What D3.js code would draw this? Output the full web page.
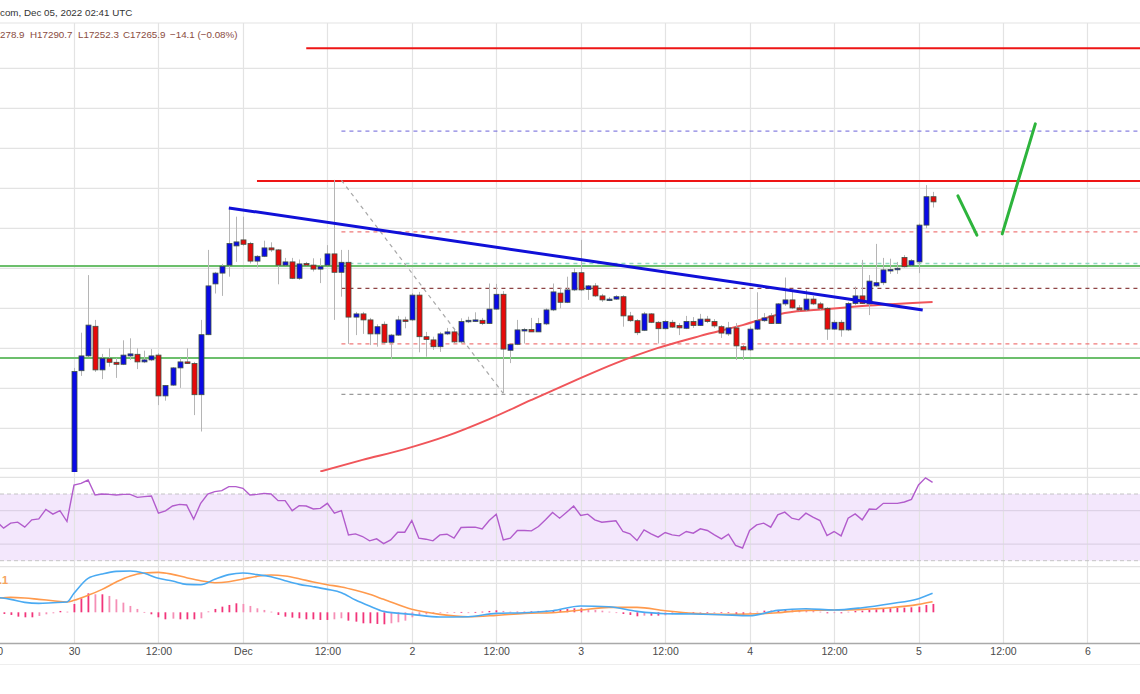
<!DOCTYPE html>
<html><head><meta charset="utf-8">
<script src="https://cdn.jsdelivr.net/npm/d3@7"></script>
<style>body{margin:0;background:#fff;overflow:hidden}svg{display:block;font-family:"Liberation Sans",Arial,sans-serif}</style>
</head><body><svg id="c" width="1140" height="694"></svg>
<script>
// ---------------- DATA (hourly candles, BTC/USD, from 30 Nov 2022 00:00 UTC) ----------------
const startUTC = Date.UTC(2022, 10, 30, 0, 0);
const open = [16571,16844,16881,16955,16846,16874,16865,16860,16881,16885,
16866,16871,16883,16781,16808,16851,16866,16862,16784,16934,
17061,17088,17108,17156,17171,17162,17118,17130,17151,17146,
17108,17116,17075,17112,17108,17098,17108,17136,17090,17115,
16978,16986,16971,16936,16960,16915,16933,16971,16971,17033,
16929,16921,16904,16936,16941,16916,16967,16968,16970,16962,
16998,17035,16895,16910,16945,16947,16941,16961,16996,17038,
17015,17046,17089,17047,17056,17031,17020,17023,17029,16981,
16969,16945,16986,16965,16949,16965,16957,16950,16967,16957,
16973,16967,16954,16936,16951,16904,16896,16948,16969,16981,
16962,17011,17021,17001,16996,17023,17011,17000,16948,16965,
16946,17012,17031,17011,17056,17064,17096,17097,17127,17108,
17116,17208,17279];
const high = [16851,16939,17083,16971,16886,16900,16876,16920,16925,16900,
16894,16898,16888,16808,16853,16876,16900,16866,16971,17146,
17091,17111,17251,17229,17229,17166,17133,17169,17165,17148,
17126,17126,17122,17116,17125,17125,17158,17321,17146,17146,
16991,16991,16976,16960,16967,16936,16981,16979,17038,17041,
16941,16929,16941,16951,16951,16975,16979,16990,16976,17062,
17061,17043,16911,16971,16951,16976,16976,17000,17062,17050,
17079,17100,17171,17058,17063,17036,17028,17033,17033,16991,
16973,16991,16988,16968,16971,16971,16963,16981,16978,16986,
16981,16973,16958,16966,16963,16908,16954,17040,16988,16988,
17013,17077,17046,17008,17046,17031,17016,17003,16971,16971,
17016,17054,17121,17083,17161,17126,17124,17116,17133,17123,
17212,17308,17291];
const low = [16550,16831,16878,16841,16823,16854,16826,16858,16871,16848,
16863,16868,16758,16769,16806,16801,16861,16733,16692,16933,
17037,17031,17079,17116,17156,17112,17102,17128,17141,17060,
17106,17073,17071,17106,17092,17063,17106,16971,17029,16911,
16933,16936,16908,16904,16913,16873,16931,16950,16968,16890,
16879,16896,16891,16933,16913,16912,16963,16966,16958,16961,
16996,16788,16863,16908,16912,16941,16941,16958,16993,17000,
17013,17043,17043,17021,17028,17016,17018,17021,16954,16966,
16933,16943,16963,16912,16947,16951,16933,16948,16951,16956,
16963,16951,16926,16931,16871,16871,16893,16946,16966,16961,
16961,17006,16998,16993,16993,17008,16996,16921,16946,16929,
16943,17008,17011,16983,17053,17058,17086,17086,17102,17106,
17088,17200,17252];
const close = [16842,16881,16958,16846,16875,16865,16860,16883,16886,16866,
16871,16881,16781,16807,16851,16866,16862,16784,16934,17056,
17088,17105,17162,17166,17160,17118,17130,17151,17146,17108,
17116,17075,17111,17108,17098,17104,17136,17090,17115,16978,
16986,16971,16936,16954,16915,16933,16971,16968,17033,16929,
16922,16904,16936,16941,16916,16967,16970,16971,16962,16998,
17035,16898,16910,16946,16947,16941,16962,16996,17041,17015,
17046,17089,17046,17056,17031,17021,17023,17029,16981,16969,
16939,16986,16965,16949,16967,16953,16951,16967,16957,16973,
16967,16956,16938,16951,16906,16896,16948,16969,16976,16962,
17011,17021,17001,16996,17023,17011,17000,16948,16965,16946,
17012,17031,17012,17068,17064,17096,17097,17100,17104,17119,
17208,17279,17266];

// moving average (red curve), read at these hours
const maHours  = [35,41,47,53,59,65,71,77,83,89,95,101,107,113,122];
const maValues = [16592,16621,16648,16681,16723,16771,16818,16863,16901,16931,16958,16988,16998,17007,17016];

// horizontal levels (price) and the hour where each starts
const levelPrice = [17650,17443,17318,17191,17112,17106,17050,16911,16876,16785];
const levelStart = [33,38,26,38,38,-12,38,38,-12,38];

// trend line, fib diagonal, projection strokes: [hour, price]
const trendLine = [[22,17251],[120.6,16996]];
const fibDiagonal = [[38,17320],[61,16787]];
const projection1 = [[125.6,17281],[128.3,17183]];
const projection2 = [[131.9,17186],[136.6,17461]];

// RSI, first value at hour -11
const rsiStart = -11;
const rsi = [53.5,49.5,52.5,53.1,50.1,54.5,55.1,60.8,57.9,60.0,53.5,
75.4,76.4,78.4,69.4,70.0,69.8,69.4,69.8,69.8,68.0,
68.4,68.8,58.5,59.9,62.8,63.8,63.4,54.9,64.4,70.0,
71.4,72.0,74.4,74.4,73.4,69.4,69.8,70.4,70.0,66.0,
66.0,60.0,63.0,62.8,61.0,61.4,64.4,58.5,60.0,45.5,
46.1,44.5,41.9,43.1,40.2,42.5,47.1,47.1,54.1,43.5,
42.9,41.9,45.5,45.9,43.5,49.9,50.1,50.1,49.1,54.1,
57.9,42.5,43.5,48.1,48.1,47.9,50.5,54.5,58.9,55.5,
59.1,62.8,57.1,57.9,54.5,53.1,53.5,53.9,47.5,46.1,
42.1,48.5,46.1,44.1,46.9,45.5,44.9,47.5,46.5,49.1,
48.1,45.5,43.1,45.9,39.2,37.6,48.1,51.5,52.5,50.1,
57.5,59.1,55.5,54.5,58.5,56.1,54.1,45.1,47.5,44.9,
55.5,58.1,54.5,61.0,60.8,64.4,64.4,64.4,65.2,66.8,
75.4,79.7,77.0];

// MACD lines, read at these hours
const macdHours = [-11,-9,-7,-5,-3,-1,0,2,4,6,8,10,12,14,16,18,20,22,24,26,28,30,32,34,36,38,40,42,44,48,52,56,60,64,68,72,76,80,84,88,92,96,100,104,108,112,116,120,122];
const macdLine = [29.9,25.9,19.9,17.9,19.2,20.6,37.9,67.9,76.6,81.9,82.6,77.9,67.9,62.6,55.9,55.2,65.9,75.3,78.6,75.3,71.2,63.2,55.9,51.2,45.9,39.2,24.6,12.6,1.9,-4.1,-9.5,-8.8,-2.1,-0.8,3.2,12.6,11.2,1.9,-2.8,-3.5,-4.8,-6.8,3.9,7.2,4.6,9.2,17.2,27.2,37.9];
const signalLine = [27.9,29.9,28.6,25.9,23.2,20.6,23.9,33.9,45.9,60.6,72.6,78.6,79.9,75.9,69.2,63.2,59.2,61.2,66.6,71.9,74.6,72.6,67.2,60.6,55.2,50.6,43.9,35.9,25.9,5.9,-4.1,-8.8,-6.1,-2.1,-0.8,4.6,9.9,9.9,3.2,-2.1,-4.1,-3.5,-0.8,3.9,4.6,5.9,9.2,15.9,21.2];

// MACD histogram, first value at hour -10
const histStart = -10;
const hist = [-3.3,-5.3,-8.7,-10,-10,-7.3,-4,-2,2.7,1.3,
16.7,28,38,36,36,32.7,26,19.3,12.7,6.7,
0.7,-4,-10,-14,-12.7,-14,-14,-14,-12,2,
6.7,11.3,14.7,18,16.7,12.7,8,4.7,1.3,-5.3,
-8.7,-10.7,-12,-14,-14,-15.3,-15.3,-14,-12,-16.7,
-18.7,-22,-22,-23.3,-24,-22,-20,-16.7,-10,-6.7,
-4,-2.7,-1.3,-0.7,0.5,0.7,0,0.7,1.3,2.7,
4,2.7,1.3,1.3,1.3,2,2.7,3.3,4,5.3,
6.7,8,8,6.7,4.7,3.3,1.3,-0.7,-3.3,-5.3,
-8,-6.7,-6.7,-6.7,-6,-4,-2.7,-1.3,-1.3,-0.7,
-1.3,-0.7,-0.7,-1.3,-3.3,-5.3,-3.3,1.3,3.3,3.3,
4.7,6,5.3,4,3.3,2.7,1.3,-2,-0.7,-2,
1.3,2.7,3.3,4.7,6,6.7,8,8.7,9.3,10,
11.3,14.7,16.7];

const headerTitle = "com, Dec 05, 2022 02:41 UTC";
const headerOHLC = ["278.9","H17290.7","L17252.3","C17265.9","\u221214.1 (\u22120.08%)"];
const macdLabel = ".1";

// ---------------- SCALES ----------------
const HOUR = 3600e3;
const hd = h => new Date(startUTC + h * HOUR);
const x = d3.scaleUtc().domain([hd(-12), hd(144)]).range([74 - 84.45, 74 + 12 * 84.45]);
const X = h => x(hd(h));
const yP = d3.scaleLinear().domain([16600, 17700]).range([468.3, 28.3]);
const yR = d3.scaleLinear().domain([30, 70]).range([560.7, 494]);
const yM = d3.scaleLinear().domain([-50, 50]).range([637.3, 587.3]);

const svg = d3.select("#c");
svg.append("rect").attr("width",1140).attr("height",694).attr("fill","#fff");

// RSI band
svg.append("rect").attr("x",0).attr("width",1140).attr("y",yR(70)).attr("height",yR(30)-yR(70)).attr("fill","#f3e7fc");

// grid
const ticks = x.ticks(d3.utcHour.every(12));
svg.append("g").selectAll("line").data(ticks).join("line")
  .attr("x1",d=>Math.round(x(d))+0.5).attr("x2",d=>Math.round(x(d))+0.5)
  .attr("y1",23).attr("y2",643).attr("stroke","#e3e3e3").attr("stroke-width",1.2);
const pGrid = d3.range(16600, 17650, 100);
svg.append("g").selectAll("line").data(pGrid).join("line")
  .attr("x1",0).attr("x2",1140).attr("y1",d=>yP(d)).attr("y2",d=>yP(d))
  .attr("stroke","#e3e3e3").attr("stroke-width",1.2);
[23, 477.3, 566.7, 583.3].forEach(v=>{
  svg.append("line").attr("x1",0).attr("x2",1140).attr("y1",v).attr("y2",v).attr("stroke","#e3e3e3").attr("stroke-width",1.2);
});
[60,40].forEach(v=>{
  svg.append("line").attr("x1",0).attr("x2",1140).attr("y1",yR(v)).attr("y2",yR(v)).attr("stroke","#ddd2e6").attr("stroke-width",1.2);
});
[70,30].forEach(v=>{
  svg.append("line").attr("x1",0).attr("x2",1140).attr("y1",yR(v)).attr("y2",yR(v)).attr("stroke","#c4c4c4").attr("stroke-dasharray","4,3");
});

// ---------------- MAIN PANE ----------------
svg.append("clipPath").attr("id","mainClip").append("rect").attr("x",0).attr("y",23).attr("width",1140).attr("height",449);
const main = svg.append("g").attr("clip-path","url(#mainClip)");

const LEVEL_STYLE = [
  {c:"#ee1515", w:2, d:null},
  {c:"#6a62d8", w:1, d:"4,4"},
  {c:"#ee1515", w:2, d:null},
  {c:"#f07a7a", w:1.3, d:"4,4"},
  {c:"#8fd8bf", w:1.3, d:"4,4"},
  {c:"#6cbf6c", w:2, d:null},
  {c:"#8e4545", w:1.2, d:"4,4"},
  {c:"#f07a7a", w:1.3, d:"4,4"},
  {c:"#6cbf6c", w:2, d:null},
  {c:"#9a9a9a", w:1.2, d:"4,4"}
];
levelPrice.forEach((p,i)=>{
  const s = LEVEL_STYLE[i];
  const ln = main.append("line").attr("x1",X(levelStart[i])).attr("x2",1140)
    .attr("y1",yP(p)).attr("y2",yP(p)).attr("stroke",s.c).attr("stroke-width",s.w);
  if (s.d) ln.attr("stroke-dasharray",s.d);
});

const lineGen = d3.line().x(d=>X(d[0])).y(d=>yP(d[1]));
main.append("path").attr("d",lineGen(fibDiagonal)).attr("stroke","#a8a8a8").attr("stroke-width",1.2)
  .attr("stroke-dasharray","4,4").attr("fill","none");

// moving average
const maLine = d3.line().x((d,i)=>X(maHours[i])).y(d=>yP(d)).curve(d3.curveMonotoneX);
main.append("path").attr("d",maLine(maValues)).attr("stroke","#f0555a").attr("stroke-width",2).attr("fill","none");

// candles
const idx = d3.range(open.length);
const cg = main.append("g");
cg.selectAll("line").data(idx).join("line")
  .attr("x1",i=>Math.round(X(i))+0.5).attr("x2",i=>Math.round(X(i))+0.5)
  .attr("y1",i=>yP(high[i])).attr("y2",i=>yP(low[i]))
  .attr("stroke","#b5b5b5").attr("stroke-width",1);
cg.selectAll("rect").data(idx).join("rect")
  .attr("x",i=>Math.round(X(i))-2)
  .attr("width",5)
  .attr("y",i=>yP(Math.max(open[i],close[i])))
  .attr("height",i=>Math.max(1.5, Math.abs(yP(open[i])-yP(close[i]))))
  .attr("fill",i=> close[i] >= open[i] ? "#0a0ae6" : "#e60a0a")
  .attr("stroke","#3e5044").attr("stroke-width",0.8);

// trend line & projection
main.append("path").attr("d",lineGen(trendLine)).attr("stroke","#1010d8").attr("stroke-width",3).attr("fill","none");
[projection1, projection2].forEach(p=>{
  main.append("path").attr("d",lineGen(p)).attr("stroke","#2db43c").attr("stroke-width",3).attr("fill","none").attr("stroke-linecap","round");
});

// ---------------- RSI ----------------
const rsiGen = d3.line().x((d,i)=>X(rsiStart+i)).y(d=>yR(d));
svg.append("path").attr("d",rsiGen(rsi)).attr("stroke","#b25ccc").attr("stroke-width",1.4).attr("fill","none");

// ---------------- MACD ----------------
svg.append("g").selectAll("rect").data(hist).join("rect")
  .attr("x",(d,i)=>Math.round(X(histStart+i))-0.5)
  .attr("width",1.8)
  .attr("y",d=>Math.min(yM(d),yM(0)))
  .attr("height",d=>Math.max(0.8,Math.abs(yM(d)-yM(0))))
  .attr("fill",(d,i)=>{ const prev = i>0 ? hist[i-1] : d; return Math.abs(d) >= Math.abs(prev) ? "#f2357a" : "#f58fb6"; });
const mGen = d3.line().x((d,i)=>X(macdHours[i])).y(d=>yM(d)).curve(d3.curveMonotoneX);
svg.append("path").attr("d",mGen(signalLine)).attr("stroke","#ff9a4d").attr("stroke-width",1.6).attr("fill","none");
svg.append("path").attr("d",mGen(macdLine)).attr("stroke","#4aaaf2").attr("stroke-width",1.6).attr("fill","none");
svg.append("text").attr("x",-1).attr("y",584).text(macdLabel).attr("fill","#f5a35c").attr("font-size",11).attr("font-weight","bold");

// ---------------- AXIS ----------------
svg.append("line").attr("x1",0).attr("x2",1140).attr("y1",643.5).attr("y2",643.5).attr("stroke","#a9a9a9").attr("stroke-width",1.6);
svg.append("line").attr("x1",0).attr("x2",1140).attr("y1",664.5).attr("y2",664.5).attr("stroke","#eeeeee").attr("stroke-width",1);
const fmt = d => d.getUTCHours() === 12 ? "12:00" : (d.getUTCDate() === 1 ? d3.utcFormat("%b")(d) : String(d.getUTCDate()));
const axis = d3.axisBottom(x).tickValues(ticks).tickFormat(fmt).tickSize(0).tickPadding(0);
const ag = svg.append("g").attr("transform","translate(0,648)").call(axis);
ag.select(".domain").remove();
ag.selectAll("text").attr("font-size",10.5).attr("fill","#4a4a4a").attr("font-family","'Liberation Sans',Arial,sans-serif").attr("dy","0.71em");

// ---------------- HEADER ----------------
svg.append("text").attr("x",0).attr("y",16).text(headerTitle).attr("font-size",9.8).attr("fill","#333");
const ohlcX = [0,30,78,123,170];
headerOHLC.forEach((t,i)=>{
  svg.append("text").attr("x",ohlcX[i]).attr("y",38).text(t).attr("font-size",9.8).attr("fill","#8a4b3e");
});
</script></body></html>
